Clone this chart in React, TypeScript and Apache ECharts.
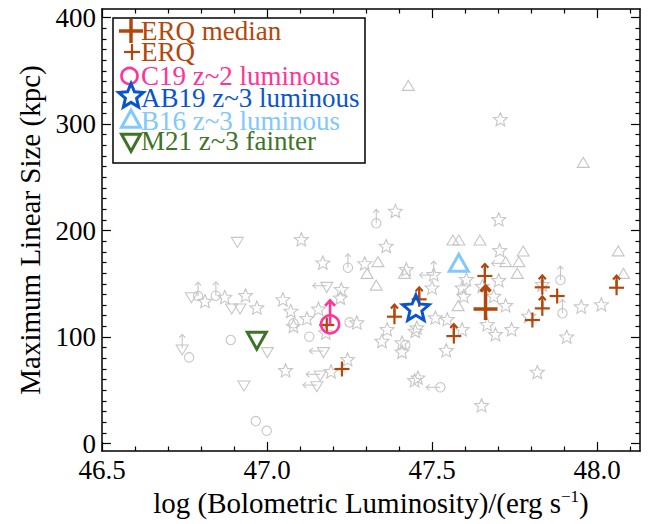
import React, { useEffect, useRef } from 'react';
import * as echarts from 'echarts';

// ---------- data (log Lbol, max linear size kpc) ----------
const grayStars: number[][] = [
  [47.104, 191.1], [47.169, 169.2], [46.812, 133.1], [46.872, 136.9], [46.935, 138.5],
  [46.969, 127.0], [47.048, 134.7], [47.072, 123.8], [47.121, 116.9], [47.156, 125.8],
  [47.080, 109.7], [47.389, 217.7], [47.361, 184.8], [47.296, 168.5], [47.225, 144.1],
  [47.222, 136.3], [47.178, 103.5], [47.272, 112.9], [47.364, 106.6], [47.348, 95.6],
  [47.409, 94.1], [47.409, 85.6], [47.244, 78.4], [47.056, 68.1], [47.194, 67.1],
  [47.454, 108.2], [47.449, 105.0], [47.510, 117.6], [47.546, 116.0], [47.543, 86.9],
  [47.591, 106.6], [47.667, 111.3], [47.457, 61.2], [47.447, 58.7], [47.650, 35.2],
  [47.692, 101.9], [47.741, 106.6], [47.908, 99.7], [47.819, 66.5], [47.702, 209.9],
  [47.705, 180.8], [47.702, 152.6], [47.834, 148.8], [47.723, 129.1], [47.952, 127.9],
  [48.013, 130.0], [47.793, 119.1], [47.687, 137.8], [47.422, 162.9], [47.505, 158.2],
  [47.500, 145.7], [47.604, 153.5], [47.591, 145.7], [47.596, 137.8], [47.707, 303.8],
  [47.652, 147.2],
];
const grayCircles: number[][] = [
  [46.890, 97.2], [46.764, 80.9], [46.966, 21.1], [46.999, 12.0], [47.128, 100.3],
  [47.080, 112.9], [47.250, 113.8], [47.419, 92.5],
  [46.791, 138.5], [46.845, 138.8], [47.331, 206.8], [47.245, 165.1], [47.889, 153.5],
  [47.895, 122.3], [47.525, 52.8],
];
const grayUpTriangles: number[][] = [
  [47.428, 334.7], [47.958, 262.4], [47.563, 189.5], [47.581, 189.5], [47.645, 189.5],
  [47.336, 169.2], [47.303, 158.2], [47.331, 147.2], [47.416, 158.2], [47.579, 127.9],
  [47.776, 179.2], [47.763, 169.2], [47.758, 158.2], [47.723, 169.2], [48.064, 179.3],
  [48.080, 158.2],
];
const grayDownTriangles: number[][] = [
  [46.910, 190.4], [46.771, 138.5], [46.893, 127.9], [46.918, 127.9], [47.001, 86.9],
  [46.930, 55.6], [46.743, 89.4], [47.181, 148.2], [47.171, 86.9], [47.161, 65.0],
  [47.151, 54.9],
];
const grayLowerLimits: number[][] = [
  [46.791, 138.5], [46.845, 138.8], [47.331, 206.8], [47.245, 165.1], [47.889, 153.5],
  [47.895, 122.3], [46.743, 89.4], [47.505, 158.2],
];
const grayUpperLimitsL: number[][] = [
  [47.525, 52.8], [47.723, 169.2], [47.181, 148.2], [47.171, 86.9], [47.161, 65.0],
  [47.151, 54.9], [47.505, 158.2],
];
// ERQ: [logL, size, isLowerLimit]
const erqPoints: number[][] = [
  [47.181, 111.3, 0], [47.227, 70.0, 0], [47.386, 119.1, 1], [47.461, 135.4, 1],
  [47.566, 100.9, 1], [47.660, 157.3, 1], [47.804, 116.0, 0], [47.834, 146.7, 1],
  [47.834, 126.9, 1], [47.879, 138.5, 0], [48.059, 146.3, 1],
];
const erqMedian: number[][] = [[47.662, 126.3]];
const c19: number[][] = [[47.191, 111.9]];
const ab19: number[][] = [[47.451, 126.3]];
const b16: number[][] = [[47.581, 167.0]];
const m21: number[][] = [[46.969, 99.2]];

const legendLabels = ['ERQ median', 'ERQ', 'C19 z~2 luminous', 'AB19 z~3 luminous', 'B16 z~3 luminous', 'M21 z~3 fainter'];
const xMajorTicks = [46.5, 47.0, 47.5, 48.0];
const yMajorTicks = [0, 100, 200, 300, 400];

const xMinorTicks: number[] = [];
for (let i = 466; i <= 481; i++) if (i % 5 !== 0) xMinorTicks.push(i / 10);
const yMinorTicks: number[] = [];
for (let v = 10; v < 408; v += 10) if (v % 100 !== 0) yMinorTicks.push(v);

// ---------- styles ----------
const FONT = "'Liberation Serif', 'Times New Roman', 'DejaVu Serif', serif";
const GRAY = '#c6c6c6';
const RUST = '#b4460c';
const PINK = '#ff3399';
const BLUE = '#0a55cc';
const LBLUE = '#80c8ff';
const GREEN = '#3f7326';

// ---------- shape helpers ----------
function star(cx: number, cy: number, R: number, color: string, lw: number): any {
  const pts: number[][] = [];
  for (let i = 0; i < 10; i++) {
    const r = i % 2 === 0 ? R : R * 0.45;
    const a = -Math.PI / 2 + (i * Math.PI) / 5;
    pts.push([cx + r * Math.cos(a), cy + r * Math.sin(a)]);
  }
  return { type: 'polygon', shape: { points: pts }, style: { fill: 'none', stroke: color, lineWidth: lw, lineJoin: 'miter' } };
}
function tri(cx: number, cy: number, w: number, h: number, up: boolean, color: string, lw: number): any {
  const pts = up
    ? [[cx, cy - (2 * h) / 3], [cx - w / 2, cy + h / 3], [cx + w / 2, cy + h / 3]]
    : [[cx, cy + (2 * h) / 3], [cx - w / 2, cy - h / 3], [cx + w / 2, cy - h / 3]];
  return { type: 'polygon', shape: { points: pts }, style: { fill: 'none', stroke: color, lineWidth: lw, lineJoin: 'miter' } };
}
function circ(cx: number, cy: number, r: number, color: string, lw: number): any {
  return { type: 'circle', shape: { cx, cy, r }, style: { fill: 'none', stroke: color, lineWidth: lw } };
}
function seg(x1: number, y1: number, x2: number, y2: number, color: string, lw: number): any {
  return { type: 'line', shape: { x1, y1, x2, y2 }, style: { stroke: color, lineWidth: lw } };
}
function cross(cx: number, cy: number, h: number, color: string, lw: number): any[] {
  return [seg(cx - h, cy, cx + h, cy, color, lw), seg(cx, cy - h, cx, cy + h, color, lw)];
}
function arrowUp(cx: number, cy: number, len: number, head: number, color: string, lw: number): any[] {
  return [
    seg(cx, cy, cx, cy - len, color, lw),
    { type: 'polyline', shape: { points: [[cx - head, cy - len + head * 1.1], [cx, cy - len], [cx + head, cy - len + head * 1.1]] }, style: { fill: 'none', stroke: color, lineWidth: lw } },
  ];
}
function arrowLeft(cx: number, cy: number, len: number, head: number, color: string, lw: number): any[] {
  return [
    seg(cx, cy, cx - len, cy, color, lw),
    { type: 'polyline', shape: { points: [[cx - len + head * 1.1, cy - head], [cx - len, cy], [cx - len + head * 1.1, cy + head]] }, style: { fill: 'none', stroke: color, lineWidth: lw } },
  ];
}

function markers(name: string, data: number[][], draw: (x: number, y: number, v: (i: number) => number) => any[], z: number): any {
  return {
    type: 'custom',
    name,
    data,
    z,
    silent: true,
    clip: false,
    renderItem: (_p: any, api: any) => {
      const pt = api.coord([api.value(0), api.value(1)]);
      return { type: 'group', children: draw(pt[0], pt[1], (i: number) => api.value(i)) };
    },
  };
}

function buildOption(): any {
  const axisLineStyle = { color: '#000', width: 1.5 };
  const FS = 27;
  const TS = 29;
  const mkX = (pos: string, ticks: number[], len: number, labels: boolean, line: boolean): any => ({
    type: 'value', position: pos, min: 46.5, max: 48.13,
    axisLine: { show: line, onZero: false, lineStyle: axisLineStyle },
    axisTick: { show: true, inside: true, length: len, customValues: ticks, lineStyle: { color: '#000', width: 1.2 } },
    axisLabel: labels
      ? { show: true, customValues: ticks, formatter: (v: number) => v.toFixed(1), fontFamily: FONT, fontSize: FS, color: '#000', margin: 5 }
      : { show: false },
    splitLine: { show: false },
  });
  const mkY = (pos: string, ticks: number[], len: number, labels: boolean, line: boolean): any => ({
    type: 'value', position: pos, min: -7, max: 408,
    axisLine: { show: line, onZero: false, lineStyle: axisLineStyle },
    axisTick: { show: true, inside: true, length: len, customValues: ticks, lineStyle: { color: '#000', width: 1.2 } },
    axisLabel: labels
      ? { show: true, customValues: ticks, fontFamily: FONT, fontSize: FS, color: '#000', margin: 6 }
      : { show: false },
    splitLine: { show: false },
  });
  const xMain = mkX('bottom', xMajorTicks, 9, true, true);
  xMain.name = 'log (Bolometric Luminosity)/(erg s{sup|−1})';
  xMain.nameLocation = 'middle';
  xMain.nameGap = 34;
  xMain.nameTextStyle = {
    fontFamily: FONT, fontSize: TS, color: '#000',
    rich: { sup: { fontFamily: FONT, fontSize: 17, color: '#000', verticalAlign: 'top', padding: [0, 0, 13, 0] } },
  };
  const yMain = mkY('left', yMajorTicks, 9, true, true);
  yMain.name = 'Maximum Linear Size (kpc)';
  yMain.nameLocation = 'middle';
  yMain.nameGap = 57;
  yMain.nameTextStyle = { fontFamily: FONT, fontSize: TS, color: '#000' };

  const gs = 1.1;
  const series = [
    markers('grayStars', grayStars, (x, y) => [star(x, y, 7.3, GRAY, gs)], 2),
    markers('grayCircles', grayCircles, (x, y) => [circ(x, y, 4.7, GRAY, gs)], 2),
    markers('grayUpTri', grayUpTriangles, (x, y) => [tri(x, y, 12, 10, true, GRAY, gs)], 2),
    markers('grayDownTri', grayDownTriangles, (x, y) => [tri(x, y, 12, 10, false, GRAY, gs)], 2),
    markers('grayLower', grayLowerLimits, (x, y) => arrowUp(x, y, 14, 3, GRAY, gs), 2),
    markers('grayUpper', grayUpperLimitsL, (x, y) => arrowLeft(x, y, 14, 3, GRAY, gs), 2),
    markers('ERQ', erqPoints, (x, y, v) => {
      const out = cross(x, y, 7.5, RUST, 2.2);
      if (v(2) === 1) out.push(...arrowUp(x, y, 12, 3.5, RUST, 2.2));
      return out;
    }, 4),
    markers('ERQ median', erqMedian, (x, y) => [
      seg(x - 12, y, x + 12, y, RUST, 3.5), seg(x, y, x, y + 11, RUST, 3.5),
      ...arrowUp(x, y, 23, 5, RUST, 3.5),
    ], 5),
    markers('C19', c19, (x, y) => [circ(x, y, 9, PINK, 2.6), ...arrowUp(x, y, 24, 5, PINK, 2.6)], 6),
    markers('AB19', ab19, (x, y) => [star(x, y, 14, BLUE, 3)], 6),
    markers('B16', b16, (x, y) => [tri(x, y, 19, 17, true, LBLUE, 3)], 6),
    markers('M21', m21, (x, y) => [tri(x, y, 19, 17, false, GREEN, 3)], 6),
  ];

  // legend
  const lx = 131;
  const ly = [31, 52, 76, 97.5, 120.5, 141];
  const legendColors = [RUST, RUST, PINK, BLUE, LBLUE, GREEN];
  const legendSyms: any[] = [
    ...cross(lx, ly[0], 12, RUST, 3.5),
    ...cross(lx + 1, ly[1], 8, RUST, 2.2),
    circ(lx - 1.5, ly[2], 8, PINK, 2.6),
    star(lx, ly[3] - 1, 13, BLUE, 3),
    tri(lx, ly[4] + 1, 19, 17, true, LBLUE, 3),
    tri(lx, ly[5] - 1, 19, 17, false, GREEN, 3),
  ];
  const legendTexts = legendLabels.map((t, i) => ({
    type: 'text', x: 141, y: ly[i],
    style: { text: t, fill: legendColors[i], fontFamily: FONT, fontSize: 27, lineHeight: 20, verticalAlign: 'middle', align: 'left' },
  }));
  const graphic = [
    {
      type: 'group', z: 100,
      children: [
        { type: 'rect', shape: { x: 113, y: 18, width: 252, height: 145 }, style: { fill: '#fff', stroke: '#000', lineWidth: 1.5 } },
        ...legendSyms,
        ...legendTexts,
      ],
    },
  ];

  return {
    animation: false,
    backgroundColor: '#fff',
    grid: { left: 102, top: 9, width: 538, height: 442, containLabel: false },
    xAxis: [
      xMain,
      mkX('bottom', xMinorTicks, 4.5, false, false),
      mkX('top', xMajorTicks, 9, false, true),
      mkX('top', xMinorTicks, 4.5, false, false),
    ],
    yAxis: [
      yMain,
      mkY('left', yMinorTicks, 4.5, false, false),
      mkY('right', yMajorTicks, 9, false, true),
      mkY('right', yMinorTicks, 4.5, false, false),
    ],
    series,
    graphic,
  };
}

export default function App() {
  const ref = useRef<HTMLDivElement>(null);
  useEffect(() => {
    const chart = echarts.init(ref.current as HTMLDivElement, null, { renderer: 'svg' });
    chart.setOption(buildOption());
    return () => chart.dispose();
  }, []);
  return <div ref={ref} style={{ position: 'absolute', left: 0, top: 0, width: 654, height: 524 }} />;
}
